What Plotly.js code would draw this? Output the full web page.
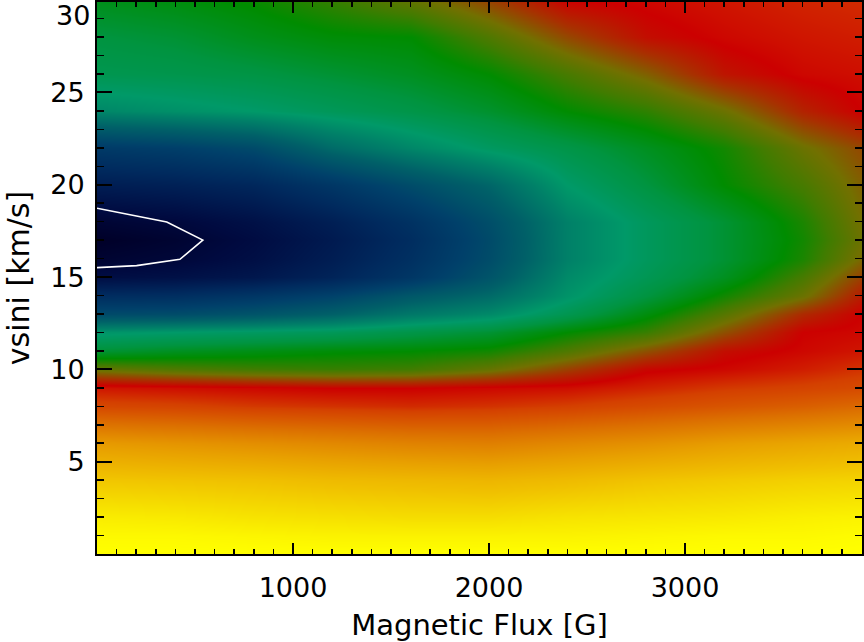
<!DOCTYPE html>
<html>
<head>
<meta charset="utf-8">
<script src="https://cdn.plot.ly/plotly-3.0.1.min.js"></script>
<style>
  body { margin: 0; background: #fff; }
  #chart { width: 864px; height: 642px; }
</style>
</head>
<body>
<div id="chart"></div>
<script>
// grid of the chi-square map (0 = best fit, 1 = worst)
var flux = [0, 400, 800, 1200, 1600, 2000, 2400, 2800, 3200, 3600, 3900];
var vsini = [0, 1, 2, 4, 6, 8, 9, 10, 11, 12, 13, 14, 15, 16, 17, 18, 20, 22, 24, 26, 28, 30];

var fit = [
  [1.0, 1.0, 1.0, 1.0, 1.0, 1.0, 1.0, 1.0, 1.0, 1.0, 1.0],
  [0.99, 0.99, 0.985, 0.98, 0.98, 0.98, 0.98, 0.985, 0.99, 0.99, 0.995],
  [0.97, 0.965, 0.955, 0.95, 0.945, 0.945, 0.955, 0.96, 0.965, 0.975, 0.98],
  [0.91, 0.905, 0.90, 0.89, 0.885, 0.88, 0.89, 0.905, 0.915, 0.925, 0.93],
  [0.83, 0.82, 0.81, 0.80, 0.79, 0.785, 0.80, 0.815, 0.835, 0.85, 0.86],
  [0.70, 0.695, 0.685, 0.68, 0.675, 0.68, 0.69, 0.705, 0.72, 0.735, 0.75],
  [0.66, 0.655, 0.65, 0.645, 0.645, 0.65, 0.655, 0.67, 0.685, 0.695, 0.705],
  [0.56, 0.545, 0.535, 0.53, 0.535, 0.56, 0.60, 0.64, 0.65, 0.665, 0.68],
  [0.46, 0.475, 0.485, 0.495, 0.50, 0.51, 0.545, 0.59, 0.635, 0.65, 0.66],
  [0.39, 0.40, 0.41, 0.42, 0.44, 0.46, 0.50, 0.53, 0.59, 0.645, 0.65],
  [0.245, 0.25, 0.27, 0.30, 0.345, 0.375, 0.43, 0.49, 0.55, 0.615, 0.645],
  [0.16, 0.165, 0.19, 0.225, 0.28, 0.32, 0.39, 0.45, 0.51, 0.565, 0.625],
  [0.06, 0.07, 0.09, 0.13, 0.19, 0.27, 0.375, 0.425, 0.475, 0.54, 0.60],
  [0.02, 0.035, 0.065, 0.11, 0.17, 0.25, 0.36, 0.415, 0.46, 0.515, 0.575],
  [0.0, 0.02, 0.055, 0.10, 0.16, 0.245, 0.36, 0.415, 0.46, 0.51, 0.565],
  [0.025, 0.04, 0.07, 0.115, 0.175, 0.255, 0.36, 0.415, 0.46, 0.515, 0.57],
  [0.11, 0.12, 0.14, 0.19, 0.25, 0.31, 0.40, 0.45, 0.50, 0.54, 0.58],
  [0.20, 0.215, 0.245, 0.32, 0.37, 0.41, 0.44, 0.475, 0.51, 0.565, 0.595],
  [0.37, 0.385, 0.40, 0.42, 0.44, 0.465, 0.50, 0.525, 0.565, 0.62, 0.645],
  [0.43, 0.435, 0.445, 0.46, 0.475, 0.50, 0.54, 0.58, 0.63, 0.65, 0.655],
  [0.45, 0.46, 0.48, 0.495, 0.50, 0.545, 0.595, 0.635, 0.65, 0.66, 0.665],
  [0.48, 0.49, 0.505, 0.53, 0.56, 0.60, 0.645, 0.65, 0.66, 0.67, 0.675]
];

// the white confidence contour
var contourFlux = [0, 356, 540, 423, 202, 0];
var contourVsini = [18.73, 17.98, 17.0, 15.96, 15.62, 15.51];

var xTicks = [1000, 2000, 3000];
var yTicks = [5, 10, 15, 20, 25];

var colors = [
  [0.00, "#000028"],
  [0.05, "#000a40"],
  [0.10, "#001a50"],
  [0.15, "#002a5e"],
  [0.22, "#00406a"],
  [0.30, "#006068"],
  [0.36, "#008068"],
  [0.40, "#009968"],
  [0.45, "#009440"],
  [0.50, "#008c00"],
  [0.535, "#407c00"],
  [0.57, "#727000"],
  [0.61, "#a83000"],
  [0.645, "#cc0000"],
  [0.69, "#d44000"],
  [0.76, "#dc7000"],
  [0.84, "#e8a000"],
  [0.90, "#f0c000"],
  [0.95, "#f6e000"],
  [1.00, "#ffff00"]
];

var map = {
  x: flux,
  y: vsini,
  z: fit,
  type: "heatmap",
  zsmooth: "best",
  zmin: 0,
  zmax: 1,
  colorscale: colors,
  showscale: false,
  hoverinfo: "skip"
};

var contour = {
  x: contourFlux,
  y: contourVsini,
  type: "scatter",
  mode: "lines",
  line: {color: "white", width: 1.6},
  hoverinfo: "skip"
};

var font = "DejaVu Sans, sans-serif";

var layout = {
  width: 864,
  height: 642,
  margin: {l: 97, r: 2, t: 2, b: 88},
  paper_bgcolor: "white",
  plot_bgcolor: "white",
  showlegend: false,
  font: {family: font, size: 27, color: "black"},
  xaxis: {
    range: [0, 3903],
    tickmode: "array",
    tickvals: xTicks,
    ticks: "inside",
    ticklen: 11,
    tickwidth: 2,
    tickcolor: "black",
    ticklabelstandoff: 9,
    minor: {tickmode: "linear", tick0: 0, dtick: 100, ticks: "inside", ticklen: 5, tickwidth: 1.5, tickcolor: "black"},
    showline: true,
    linewidth: 2,
    linecolor: "black",
    mirror: "allticks",
    showgrid: false,
    zeroline: false,
    tickfont: {family: font, size: 27, color: "black"},
    title: {text: "Magnetic Flux [G]", font: {family: font, size: 29, color: "black"}, standoff: 16}
  },
  yaxis: {
    range: [0, 29.9],
    tickmode: "array",
    tickvals: yTicks,
    ticks: "inside",
    ticklen: 15,
    tickwidth: 2,
    tickcolor: "black",
    ticklabelstandoff: 5,
    minor: {tickmode: "linear", tick0: 0, dtick: 1, ticks: "inside", ticklen: 7, tickwidth: 1.5, tickcolor: "black"},
    showline: true,
    linewidth: 2,
    linecolor: "black",
    mirror: "allticks",
    showgrid: false,
    zeroline: false,
    tickfont: {family: font, size: 27, color: "black"},
    title: {text: "vsini [km/s]", font: {family: font, size: 30, color: "black"}, standoff: 12}
  },
  annotations: [{
    text: "30",
    xref: "paper", yref: "paper",
    x: 0, y: 1,
    xanchor: "right", yanchor: "top",
    xshift: -5, yshift: 4,
    showarrow: false,
    font: {family: font, size: 27, color: "black"}
  }]
};

Plotly.newPlot("chart", [map, contour], layout, {staticPlot: true});
</script>
</body>
</html>
